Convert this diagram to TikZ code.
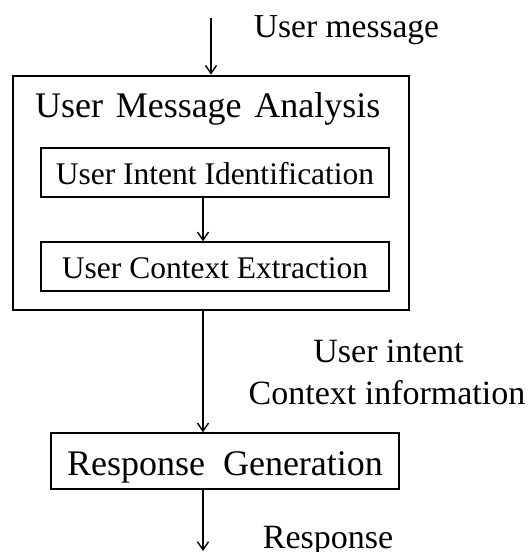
\documentclass[tikz,border=0pt]{standalone}
\usepackage{fontspec}
\setmainfont{Liberation Serif}
\usetikzlibrary{arrows.meta}
\begin{document}
\begin{tikzpicture}[x=1pt,y=-1pt,
  arr/.style={line width=1.4pt,-{Straight Barb[length=8pt,width=11pt,line width=1.4pt]}},
  subbox/.style={draw,line width=1.4pt,minimum width=348pt,minimum height=49pt,inner sep=0pt,text height=23pt,text depth=0pt,font=\fontsize{31.5}{36}\selectfont},
  lbl/.style={inner sep=0pt,anchor=base,font=\fontsize{34}{40}\selectfont}]
\useasboundingbox (0,0) rectangle (530,552);
\fill[white] (0,0) rectangle (530,552);
% outer box
\node[draw,line width=2.7pt,minimum width=396pt,minimum height=234pt,inner sep=0pt] (outer) at (211,193) {};
\node[inner sep=0pt,anchor=base west,font=\fontsize{36}{40}\selectfont] (title) at (35,117) {User\hspace{0.35em}Message\hspace{0.35em}Analysis};
\node[subbox] (intent) at (215,172.5) {User Intent Identification};
\node[subbox] (context) at (215,266.5) {User Context Extraction};
\node[draw,line width=1.4pt,minimum width=348pt,minimum height=56pt,inner sep=0pt,text height=28pt,text depth=0pt,font=\fontsize{36}{40}\selectfont] (resp) at (225,461) {Response\hspace{0.5em}Generation};
% labels
\node[lbl,font=\fontsize{33.5}{40}\selectfont] (lmsg) at (346.5,37) {User message};
\node[lbl] (lintent) at (388.5,362) {User intent};
\node[lbl] (lctx) at (387,404) {Context information};
\node[lbl] (lresp) at (328,548) {Response};
% connectors
\coordinate (in) at (211,18);
\coordinate (ax) at (203,0);
\coordinate (out) at (203,551);
\draw[arr] (in) -- (outer.north);
\draw[arr] (intent.south -| ax) -- (context.north -| ax);
\draw[arr] (outer.south -| ax) -- (resp.north -| ax);
\draw[arr] (resp.south -| ax) -- (out);
\end{tikzpicture}
\end{document}
